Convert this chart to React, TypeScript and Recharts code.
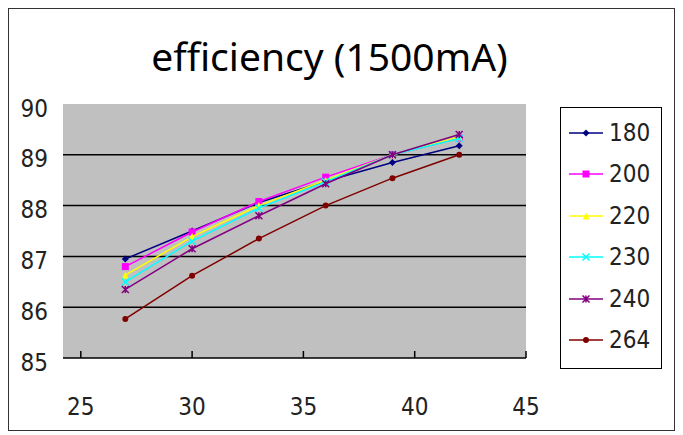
import React from 'react';
import {
  CartesianGrid,
  Legend,
  ReferenceLine,
  Scatter,
  ScatterChart,
  XAxis,
  YAxis,
} from 'recharts';

// voltage points (x) and efficiency per input line (y)
const VOLTS = [27, 30, 33, 36, 39, 42];
const EFF_180 = [86.95, 87.5, 88.06, 88.48, 88.85, 89.18];
const EFF_200 = [86.8, 87.48, 88.08, 88.56, 89.0, 89.33];
const EFF_220 = [86.63, 87.39, 88.0, 88.5, 89.0, 89.35];
const EFF_230 = [86.5, 87.3, 87.95, 88.47, 89.0, 89.32];
const EFF_240 = [86.35, 87.15, 87.8, 88.43, 89.0, 89.4];
const EFF_264 = [85.77, 86.62, 87.35, 88.0, 88.54, 89.0];

const X_TICKS = [25, 30, 35, 40, 45];
const Y_TICKS = [85, 86, 87, 88, 89, 90];
const GRID_VALUES = [86, 87, 88, 89];

const TICK_FONT = '"Liberation Sans Narrow", "DejaVu Sans Condensed", "Liberation Sans", sans-serif';

type Marker = 'diamond' | 'square' | 'triangle' | 'cross' | 'star' | 'circle';

const SERIES: {name: string; values: number[]; color: string; marker: Marker}[] = [
  {name: '180', values: EFF_180, color: '#000080', marker: 'diamond'},
  {name: '200', values: EFF_200, color: '#ff00ff', marker: 'square'},
  {name: '220', values: EFF_220, color: '#ffff00', marker: 'triangle'},
  {name: '230', values: EFF_230, color: '#00ffff', marker: 'cross'},
  {name: '240', values: EFF_240, color: '#800080', marker: 'star'},
  {name: '264', values: EFF_264, color: '#800000', marker: 'circle'},
];

function drawMarker(marker: Marker, cx: number, cy: number, color: string) {
  const s = 3.5;
  switch (marker) {
    case 'diamond':
      return <path d={`M${cx},${cy - s}L${cx + s},${cy}L${cx},${cy + s}L${cx - s},${cy}Z`} fill={color} />;
    case 'square':
      return <rect x={cx - s} y={cy - s} width={s * 2} height={s * 2} fill={color} />;
    case 'triangle':
      return <path d={`M${cx},${cy - s}L${cx + s},${cy + s}L${cx - s},${cy + s}Z`} fill={color} />;
    case 'cross':
      return (
        <path d={`M${cx - s},${cy - s}L${cx + s},${cy + s}M${cx + s},${cy - s}L${cx - s},${cy + s}`} stroke={color} strokeWidth={1.5} />
      );
    case 'star':
      return (
        <path
          d={`M${cx - s},${cy - s}L${cx + s},${cy + s}M${cx + s},${cy - s}L${cx - s},${cy + s}M${cx},${cy - s}L${cx},${cy + s}`}
          stroke={color}
          strokeWidth={1.5}
        />
      );
    default:
      return <circle cx={cx} cy={cy} r={3} fill={color} />;
  }
}

const XTick = ({x, y, payload}: any) => (
  <g>
    <line x1={x} y1={y} x2={x} y2={y - 7} stroke="#000" strokeWidth={1.5} />
    <text x={x} y={y + 57} textAnchor="middle" fontSize={24} fontFamily={TICK_FONT} fill="#222">
      {payload.value}
    </text>
  </g>
);

const LegendBox = () => (
  <div
    style={{
      width: 100,
      height: 256,
      border: '1px solid #000',
      background: '#fff',
      boxSizing: 'content-box',
      paddingTop: 4,
    }}>
    {SERIES.map(s => (
      <div key={s.name} style={{display: 'flex', alignItems: 'center', height: 41.5}}>
        <svg width={48} height={20} style={{marginLeft: 6}}>
          <line x1={2} y1={10} x2={36} y2={10} stroke={s.color} strokeWidth={1.5} />
          {drawMarker(s.marker, 19, 10, s.color)}
        </svg>
        <span style={{fontFamily: TICK_FONT, fontSize: 24, color: '#222', marginLeft: -6}}>{s.name}</span>
      </div>
    ))}
  </div>
);

export default function App() {
  return (
    <div
      style={{
        position: 'relative',
        width: 665,
        height: 421,
        border: '1.5px solid #333',
        background: '#fff',
      }}>
      <div
        style={{
          position: 'absolute',
          top: 27,
          left: 0,
          width: 641,
          textAlign: 'center',
          fontFamily: '"Noto Sans", "Open Sans", sans-serif',
          fontSize: 39,
          lineHeight: '39px',
          color: '#000',
        }}>
        efficiency (1500mA)
      </div>
      <ScatterChart width={665} height={421} margin={{top: 95, right: 46, bottom: 12, left: 4}}>
        <CartesianGrid fill="#c0c0c0" horizontal={false} vertical={false} stroke="none" />
        {GRID_VALUES.map(v => (
          <ReferenceLine key={v} y={v} stroke="#000" strokeWidth={1.5} />
        ))}
        <XAxis
          type="number"
          dataKey="x"
          domain={[24.2, 45]}
          ticks={X_TICKS}
          axisLine={{stroke: '#000', strokeWidth: 1.5}}
          tickLine={false}
          tickSize={0}
          tickMargin={0}
          height={60}
          tick={<XTick />}
          interval={0}
        />
        <YAxis
          type="number"
          dataKey="y"
          domain={[85, 90]}
          ticks={Y_TICKS}
          width={50}
          axisLine={false}
          tickLine={false}
          tickSize={0}
          tickMargin={15}
          interval={0}
          tick={{fill: '#222', fontSize: 24, fontFamily: TICK_FONT, dy: 4}}
        />
        <Legend
          layout="vertical"
          align="right"
          verticalAlign="top"
          content={<LegendBox />}
          wrapperStyle={{left: 551, top: 98, width: 102}}
        />
        {SERIES.map(s => (
          <Scatter
            key={s.name}
            name={s.name}
            data={VOLTS.map((v, i) => ({x: v, y: s.values[i]}))}
            fill={s.color}
            line={{stroke: s.color, strokeWidth: 1.5}}
            lineType="joint"
            shape={(p: any) => drawMarker(s.marker, p.cx, p.cy, s.color)}
            isAnimationActive={false}
          />
        ))}
      </ScatterChart>
    </div>
  );
}
